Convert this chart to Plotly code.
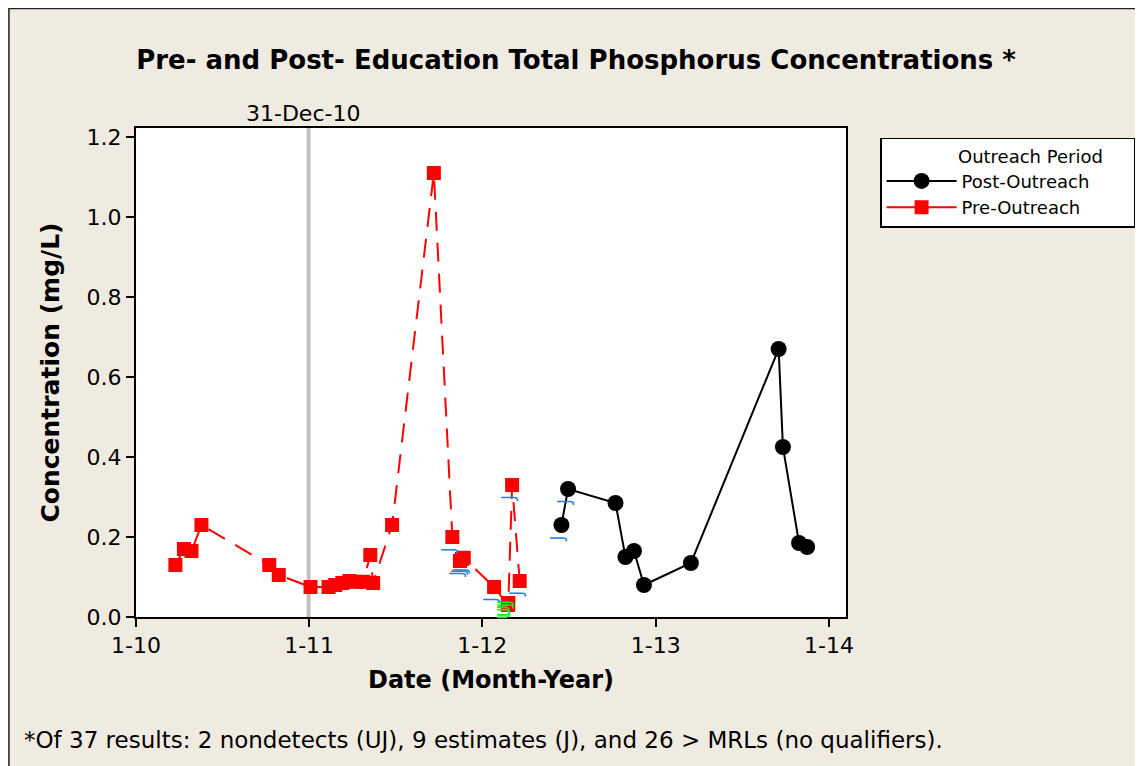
import plotly.graph_objects as go

# Pre-Outreach samples (red squares, dashed line)
pre_dates = [
    "2010-03-25", "2010-04-12", "2010-04-28", "2010-05-19", "2010-10-09", "2010-10-29",
    "2011-01-04", "2011-02-11", "2011-02-25", "2011-03-12", "2011-03-27", "2011-04-10",
    "2011-04-25", "2011-05-10", "2011-05-16", "2011-06-25", "2011-09-21", "2011-10-30",
    "2011-11-15", "2011-11-19", "2011-11-23", "2012-01-26", "2012-02-24", "2012-02-25",
    "2012-03-04", "2012-03-20",
]
pre_values = [
    0.13, 0.17, 0.165, 0.23, 0.13, 0.105,
    0.075, 0.075, 0.08, 0.085, 0.09, 0.088,
    0.088, 0.155, 0.085, 0.23, 1.11, 0.20,
    0.14, 0.145, 0.148, 0.075, 0.03, 0.035,
    0.33, 0.09,
]
pre_qual = [
    "", "", "", "", "", "",
    "", "", "", "", "", "",
    "", "", "", "", "", "J",
    "J", "J", "J", "J", "UJ", "UJ",
    "J", "J",
]

# Post-Outreach samples (black circles, solid line)
post_dates = [
    "2012-06-16", "2012-06-30", "2012-10-08", "2012-10-29", "2012-11-16", "2012-12-07",
    "2013-03-16", "2013-09-17", "2013-09-26", "2013-10-30", "2013-11-16",
]
post_values = [0.23, 0.32, 0.285, 0.15, 0.165, 0.08, 0.135, 0.67, 0.425, 0.185, 0.175]
post_qual = ["J", "J", "", "", "", "", "", "", "", "", ""]

tick_dates = ["2010-01-01", "2011-01-01", "2012-01-01", "2013-01-01", "2014-01-01"]
tick_labels = ["1-10", "1-11", "1-12", "1-13", "1-14"]
ref_date = "2010-12-31"
ref_label = "31-Dec-10"

FONT = "DejaVu Sans"
BG = "#EFEBE1"
RED = "#FF0000"
qual_colors = {"J": "#2A7FD6", "UJ": "#22DD22"}

fig = go.Figure()
fig.add_trace(go.Scatter(
    x=post_dates, y=post_values, mode="lines+markers", name="Post-Outreach",
    line=dict(color="black", width=2),
    marker=dict(symbol="circle", size=16, color="black"),
))
fig.add_trace(go.Scatter(
    x=pre_dates, y=pre_values, mode="lines+markers", name="Pre-Outreach",
    line=dict(color=RED, width=2, dash="19px,12px"),
    marker=dict(symbol="square", size=14, color=RED),
    showlegend=False, legendgroup="pre",
))
# legend entry for Pre-Outreach drawn with a solid line, as in the original
fig.add_trace(go.Scatter(
    x=[None], y=[None], mode="lines+markers", name="Pre-Outreach",
    line=dict(color=RED, width=2),
    marker=dict(symbol="square", size=14, color=RED),
    legendgroup="pre",
))

# qualifier labels just below the points, rotated
for dates, vals, quals in [(pre_dates, pre_values, pre_qual), (post_dates, post_values, post_qual)]:
    for d, v, q in zip(dates, vals, quals):
        if not q:
            continue
        fig.add_annotation(
            x=d, y=v, text=q, showarrow=False, textangle=-90,
            xanchor="center", yanchor="middle",
            xshift=-4, yshift=-13 if q == "J" else -6,
            font=dict(family=FONT, size=17, color=qual_colors[q]),
        )

fig.add_vline(x=ref_date, line_color="#C0C0C0", line_width=4, layer="below")
fig.add_annotation(
    x=ref_date, y=1, yref="paper", text=ref_label, showarrow=False,
    yanchor="bottom", xshift=-6, yshift=0,
    font=dict(family=FONT, size=22, color="black"),
)

fig.add_annotation(
    x=0, xref="paper", y=-0.2515, yref="paper", xanchor="left", yanchor="middle",
    xshift=-114, showarrow=False,
    text="*Of 37 results: 2 nondetects (UJ), 9 estimates (J), and 26 > MRLs (no qualifiers).",
    font=dict(family=FONT, size=23, color="black"),
)

# outer frame (only top/left edge visible in the crop)
fig.add_shape(type="rect", xref="paper", yref="paper",
              x0=-0.179, x1=1.6, y0=-0.6, y1=1.2445,
              line=dict(color="#222", width=1.5), layer="below")

fig.update_layout(
    width=1143, height=766,
    margin=dict(l=128, r=305, t=120, b=157),
    paper_bgcolor=BG, plot_bgcolor="white",
    font=dict(family=FONT, size=22, color="black"),
    title=dict(
        text="<b>Pre- and Post- Education Total Phosphorus Concentrations *</b>",
        x=0.497, xanchor="center", y=0.932, yanchor="middle",
        font=dict(family=FONT, size=26, color="black"),
    ),
    legend=dict(
        x=1.048, y=0.98, xanchor="left", yanchor="top",
        bgcolor="white", bordercolor="black", borderwidth=1.5,
        title=dict(text="\u00a0" * 13 + "Outreach Period" + "\u00a0" * 5, font=dict(size=18)),
        font=dict(family=FONT, size=18),
        itemwidth=70,
        traceorder="normal",
    ),
    showlegend=True,
)
fig.update_xaxes(
    type="date", range=["2010-01-01", "2014-02-06"],
    tickvals=tick_dates, ticktext=tick_labels,
    ticks="outside", ticklen=8, tickwidth=2, tickcolor="black",
    showline=True, linecolor="black", linewidth=2, mirror=True,
    showgrid=False, zeroline=False,
    title=dict(text="<b>Date (Month-Year)</b>", font=dict(size=24), standoff=14),
)
fig.update_yaxes(
    range=[0, 1.2225], tickvals=[0, 0.2, 0.4, 0.6, 0.8, 1.0, 1.2], tickformat=".1f",
    ticks="outside", ticklen=8, tickwidth=2, tickcolor="black",
    showline=True, linecolor="black", linewidth=2, mirror=True,
    showgrid=False, zeroline=False,
    title=dict(text="<b>Concentration (mg/L)</b>", font=dict(size=25), standoff=20),
)

fig.write_html("out.html")
